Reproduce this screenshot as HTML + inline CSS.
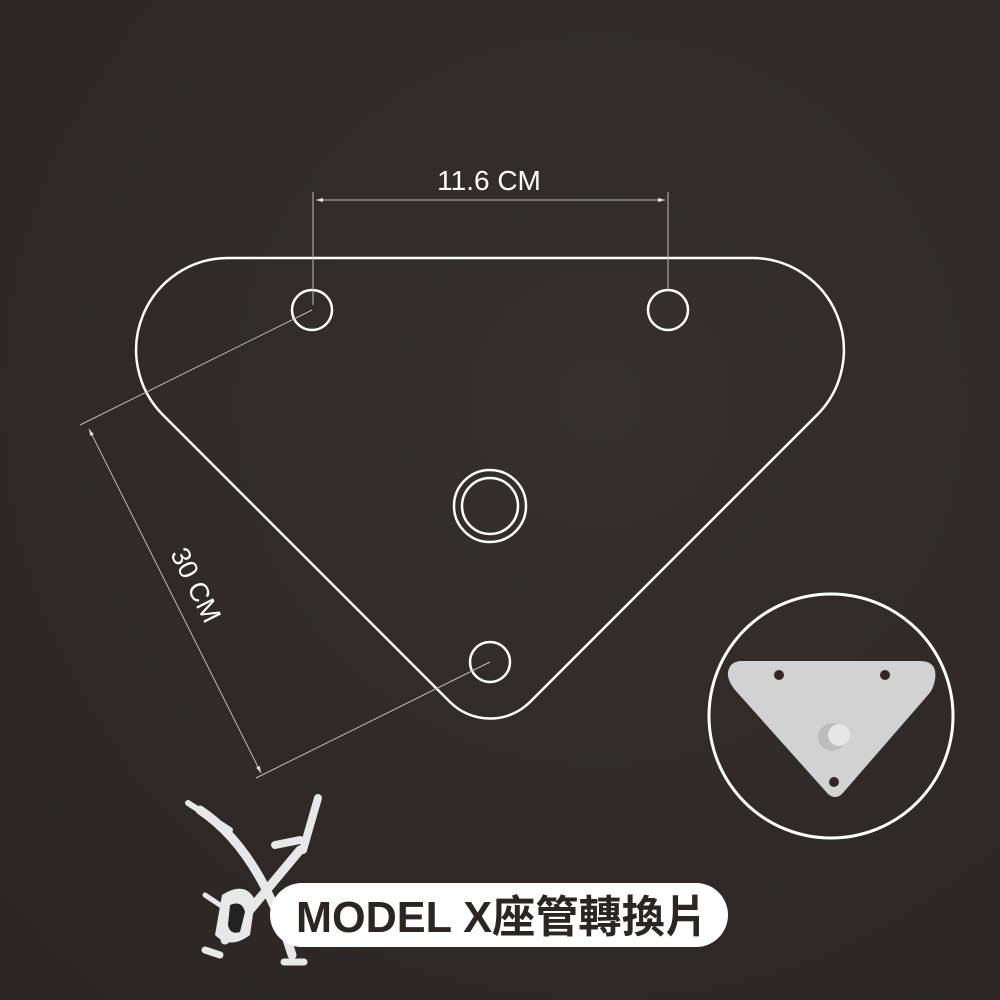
<!DOCTYPE html>
<html><head><meta charset="utf-8"><style>
html,body{margin:0;padding:0;background:#2f2a28}
svg{display:block}
</style></head><body>
<svg width="1000" height="1000" viewBox="0 0 1000 1000" xmlns="http://www.w3.org/2000/svg">
<defs>
<radialGradient id="bg" cx="0.6" cy="0.4" r="0.8">
<stop offset="0" stop-color="#35302e"/><stop offset="1" stop-color="#2b2624"/>
</radialGradient>
<marker id="ar" viewBox="0 0 10 10" refX="10" refY="5" markerWidth="7" markerHeight="7" orient="auto-start-reverse">
<path d="M0,2 L10,5 L0,8 z" fill="#ddd"/></marker>
</defs>
<rect width="1000" height="1000" fill="url(#bg)"/>
<path d="M228,258 L752,258 A92,92 0 0 1 817,415 L530,702 A56.6,56.6 0 0 1 450,702 L163,415 A92,92 0 0 1 228,258 Z" fill="none" stroke="#fff" stroke-width="2.5"/>
<circle cx="312" cy="310" r="20" fill="none" stroke="#fff" stroke-width="2.5"/>
<circle cx="668" cy="310" r="20" fill="none" stroke="#fff" stroke-width="2.5"/>
<circle cx="490" cy="662" r="20" fill="none" stroke="#fff" stroke-width="2.5"/>
<circle cx="490" cy="506" r="36" fill="none" stroke="#fff" stroke-width="2.5"/>
<circle cx="490" cy="506" r="28" fill="none" stroke="#fff" stroke-width="2.5"/>
<g stroke="#bbb" stroke-width="1">
<line x1="313" y1="192" x2="313" y2="305"/>
<line x1="668" y1="192" x2="668" y2="290"/>
<line x1="316" y1="200" x2="665" y2="200" marker-start="url(#ar)" marker-end="url(#ar)"/>
<line x1="312" y1="310" x2="80" y2="425"/>
<line x1="490" y1="662" x2="256" y2="778"/>
<line x1="89" y1="429" x2="261" y2="773" marker-start="url(#ar)" marker-end="url(#ar)"/>
</g>
<text x="489" y="190" fill="#fff" font-family="Liberation Sans, sans-serif" font-size="28" text-anchor="middle">11.6 CM</text>
<text transform="translate(194,586) rotate(63.4)" fill="#fff" font-family="Liberation Sans, sans-serif" font-size="27" text-anchor="middle" dominant-baseline="middle">30 CM</text>
<circle cx="831" cy="716" r="122" fill="none" stroke="#fff" stroke-width="3"/>
<path d="M742,661 L920,661 Q938,661 935,680 Q933,690 928,695 L842,794 Q835,800 828,794 L735,690 Q727,680 728,672 Q730,661 742,661 Z" fill="#d2d2d2"/>
<circle cx="779" cy="675" r="5" fill="#2f2a28"/>
<circle cx="885" cy="675" r="5" fill="#2f2a28"/>
<circle cx="834" cy="782" r="5" fill="#2f2a28"/>
<circle cx="832" cy="737" r="14" fill="#bdbdbd"/>
<circle cx="839" cy="735" r="11" fill="#e6e6e6"/>
<g fill="none" stroke="#e8e8e8" stroke-linecap="round">
<path d="M200,810 Q260,850 292,955" stroke-width="9"/>
<path d="M188,803 L230,830" stroke-width="6"/>
<path d="M300,850 L225,940" stroke-width="9"/>
<path d="M318,798 L303,850" stroke-width="8"/>
<path d="M275,845 L300,840" stroke-width="8"/>
<path d="M205,950 L220,955" stroke-width="7"/>
<path d="M284,962 L304,962" stroke-width="7"/>
<path d="M205,895 L235,915" stroke-width="5"/>
</g>
<path d="M222,895 Q245,880 255,900 L250,935 Q230,950 215,935 Z" fill="#e8e8e8"/>
<path d="M230,905 Q242,900 245,912 L240,932 Q230,935 228,925 Z" fill="#222"/>
<rect x="270" y="883" width="458" height="64" rx="32" fill="#fff"/>
<text x="296" y="932" textLength="412" lengthAdjust="spacingAndGlyphs" fill="#2a2624" font-family="Liberation Sans, Noto Sans CJK TC, sans-serif" font-weight="bold" font-size="44">MODEL X座管轉換片</text>
</svg>
</body></html>
